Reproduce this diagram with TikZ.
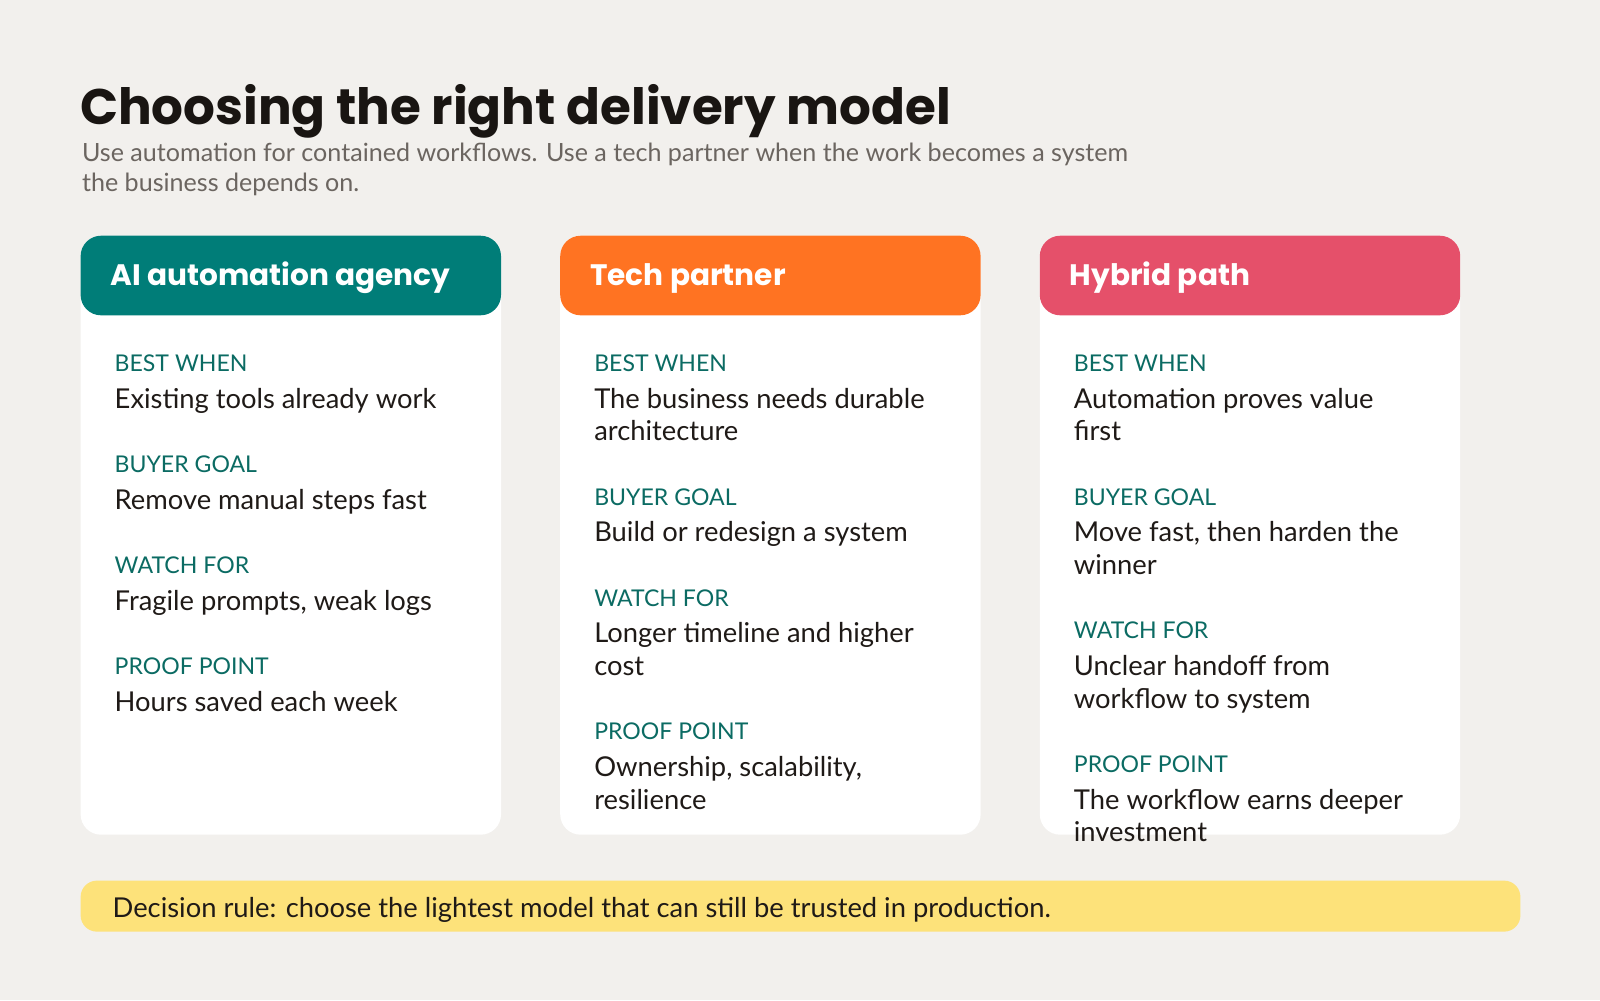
\documentclass[tikz,border=0pt]{standalone}
\usepackage{fontspec}
\setmainfont{Lato}
\newfontfamily\headfont{Poppins}
\definecolor{bg}{HTML}{F2F0ED}
\definecolor{teal}{HTML}{007D78}
\definecolor{orng}{HTML}{FF7322}
\definecolor{pink}{HTML}{E5506A}
\definecolor{lbl}{HTML}{0B6B63}
\definecolor{ink}{HTML}{1F1A17}
\definecolor{sub}{HTML}{6B6560}
\definecolor{yel}{HTML}{FDE27A}
\begin{document}
\begin{tikzpicture}[x=0.5pt,y=-0.5pt,
  card/.style={fill=white,rounded corners=10pt},
  head/.style={rounded corners=10pt},
  headtxt/.style={anchor=mid west,inner sep=0,text=white,font=\headfont\fontsize{14.5}{18}\selectfont\bfseries},
  lab/.style={anchor=mid west,inner sep=0,text=lbl,font=\fontsize{11.3}{13}\selectfont},
  body/.style={anchor=mid west,inner sep=0,text=ink,align=left,font=\fontsize{13.4}{16}\selectfont}]
\fill[bg] (0,0) rectangle (1568,980);
\node[anchor=base west,inner sep=0,text=ink!80!black,font=\headfont\fontsize{24.5}{30}\selectfont\bfseries] (title) at (78,122) {Choosing the right delivery model};
\node[anchor=mid west,inner sep=0,text=sub,align=left,font=\fontsize{12.3}{15}\selectfont] (subt) at (80,183) {Use automation for contained workflows. Use a tech partner when the work becomes a system\\the business depends on.};
% cards
\foreach \x/\c/\n in {79/teal/a,549/orng/b,1019/pink/c}{
  \fill[card] (\x,231) rectangle ++(412,587);
  \fill[head,\c] (\x,231) rectangle ++(412,78);
}
\node[headtxt] (ha) at (108,275) {AI automation agency};
\node[headtxt] (hb) at (578,275) {Tech partner};
\node[headtxt] (hc) at (1048,275) {Hybrid path};
% card 1
\node[lab] (a1) at (112,359) {BEST WHEN};
\node[body] (a2) at (112,395) {Existing tools already work};
\node[lab] (a3) at (112,458) {BUYER GOAL};
\node[body] (a4) at (112,494) {Remove manual steps fast};
\node[lab] (a5) at (112,557) {WATCH FOR};
\node[body] (a6) at (112,593) {Fragile prompts, weak logs};
\node[lab] (a7) at (112,656) {PROOF POINT};
\node[body] (a8) at (112,692) {Hours saved each week};
% card 2
\node[lab] (b1) at (582,359) {BEST WHEN};
\node[body] (b2) at (582,427) {The business needs durable\\architecture};
\node[lab] (b3) at (582,490) {BUYER GOAL};
\node[body] (b4) at (582,526) {Build or redesign a system};
\node[lab] (b5) at (582,589) {WATCH FOR};
\node[body] (b6) at (582,657) {Longer timeline and higher\\cost};
\node[lab] (b7) at (582,720) {PROOF POINT};
\node[body] (b8) at (582,788) {Ownership, scalability,\\resilience};
% card 3
\node[lab] (c1) at (1052,359) {BEST WHEN};
\node[body] (c2) at (1052,427) {Automation proves value\\first};
\node[lab] (c3) at (1052,490) {BUYER GOAL};
\node[body] (c4) at (1052,558) {Move fast, then harden the\\winner};
\node[lab] (c5) at (1052,621) {WATCH FOR};
\node[body] (c6) at (1052,689) {Unclear handoff from\\workflow to system};
\node[lab] (c7) at (1052,752) {PROOF POINT};
\node[body] (c8) at (1052,820) {The workflow earns deeper\\investment};
% footer
\fill[yel,rounded corners=8pt] (79,863) rectangle (1490,913);
\node[body] (rule) at (110,894) {Decision rule: choose the lightest model that can still be trusted in production.};
\end{tikzpicture}
\end{document}
